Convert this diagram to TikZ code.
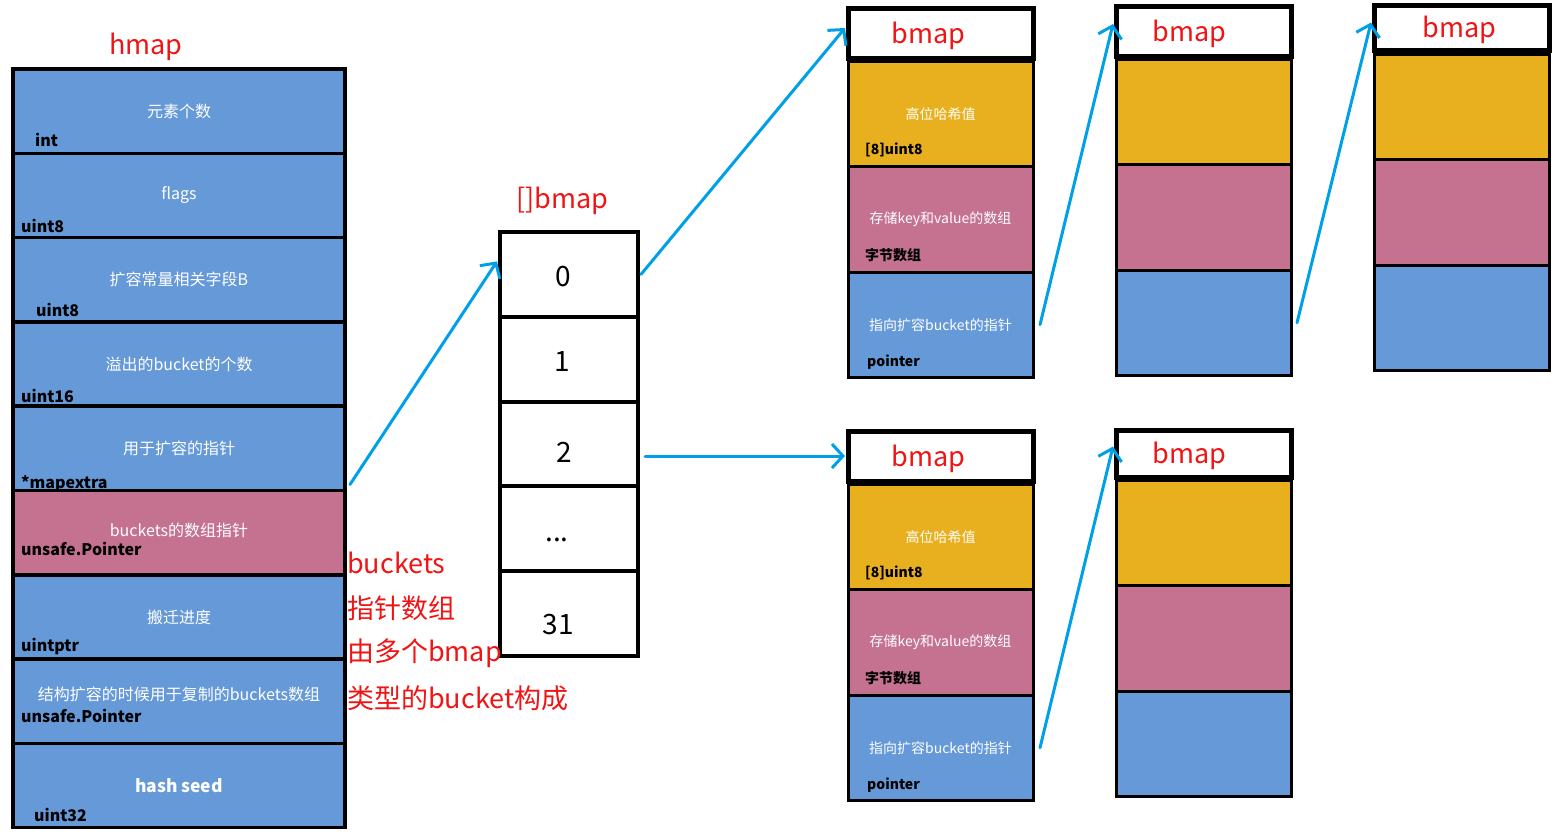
\documentclass[tikz,border=0pt]{standalone}
\usepackage{fontspec}
\setmainfont{Noto Sans CJK SC}
\usetikzlibrary{arrows.meta, positioning}
\definecolor{hblue}{RGB}{101,153,216}
\definecolor{hpink}{RGB}{196,114,144}
\definecolor{hyellow}{RGB}{232,176,30}
\definecolor{harrow}{RGB}{0,160,232}
\definecolor{hred}{RGB}{240,20,20}

\begin{document}
\begin{tikzpicture}[
    x=1pt, y=-1pt,
    hrow/.style={draw=black, fill=hblue, line width=3.5pt, minimum width=332pt, minimum height=84.3pt,
        inner sep=0pt, outer sep=0pt, text=white, font=\fontsize{16}{18}\selectfont},
    htype/.style={anchor=base west, inner sep=0pt, font=\bfseries\fontsize{16}{18}\selectfont},
    redlbl/.style={text=hred, inner sep=0pt, font=\fontsize{27}{30}\selectfont},
    cell/.style={draw=black, line width=4pt, minimum width=138pt, minimum height=84.8pt,
        inner sep=0pt, outer sep=0pt, text depth=0pt, font=\fontsize{28}{30}\selectfont},
    bhead/.style={draw=black, fill=white, line width=5pt, minimum height=50pt,
        inner sep=0pt, outer sep=0pt, text height=22pt, text depth=2pt,
        text=hred, font=\fontsize{27}{30}\selectfont},
    bpart/.style={draw=black, line width=3pt, minimum height=105.5pt,
        inner sep=0pt, outer sep=0pt, text=white, font=\fontsize{14}{16}\selectfont},
    btype/.style={anchor=base west, inner sep=0pt, font=\bfseries\fontsize{14}{16}\selectfont},
    link/.style={draw=harrow, line width=3pt, line cap=round,
        -{Straight Barb[length=11pt, width=24pt, line width=3pt]}},
    ]
    \useasboundingbox (0,0) rectangle (1568,836);

    % hmap
    \node[redlbl] (hlbl) at (146,47) {hmap};
    \node[hrow, anchor=north west] (h1) at (13,69) {元素个数};
    \node[hrow, below=0pt of h1] (h2) {flags};
    \node[hrow, below=0pt of h2] (h3) {扩容常量相关字段B};
    \node[hrow, below=0pt of h3] (h4) {溢出的bucket的个数};
    \node[hrow, below=0pt of h4] (h5) {用于扩容的指针};
    \node[hrow, below=0pt of h5, fill=hpink, text height=12pt, text depth=4pt] (h6) {buckets的数组指针};
    \node[hrow, below=0pt of h6] (h7) {搬迁进度};
    \node[hrow, below=0pt of h7, text height=6pt, text depth=8pt] (h8) {结构扩容的时候用于复制的buckets数组};
    \node[hrow, below=0pt of h8, font=\bfseries\fontsize{17.5}{19}\selectfont] (h9) {hash seed};
    \node[htype] (h1t) at (35,146) {int};
    \node[htype] (h2t) at (21,232) {uint8};
    \node[htype] (h3t) at (36,316) {uint8};
    \node[htype] (h4t) at (21,402) {uint16};
    \node[htype] (h5t) at (21,488) {*mapextra};
    \node[htype] (h6t) at (21,555) {unsafe.Pointer};
    \node[htype] (h7t) at (21,651) {uintptr};
    \node[htype] (h8t) at (21,722) {unsafe.Pointer};
    \node[htype] (h9t) at (34,821) {uint32};

    % []bmap
    \node[redlbl] (clbl) at (562,201) {[]bmap};
    \node[cell, anchor=north west, text height=24pt] (c0) at (500,232) {0\hspace*{12pt}};
    \node[cell, below=0pt of c0, text height=25pt] (c1) {1\hspace*{14pt}};
    \node[cell, below=0pt of c1, text height=37pt] (c2) {2\hspace*{10pt}};
    \node[cell, below=0pt of c2, text height=26pt] (c3) {...\hspace*{24pt}};
    \node[cell, below=0pt of c3, text height=42pt] (c4) {31\hspace*{22pt}};
    \node[redlbl, anchor=west] (b1) at (347,563) {buckets};
    \node[redlbl, anchor=west] (b2) at (347,608) {指针数组};
    \node[redlbl, anchor=west] (b3) at (347,653) {由多个bmap};
    \node[redlbl, anchor=west] (b4) at (347,698) {类型的bucket构成};

    % bmap 1
    \node[bhead, minimum width=185pt, anchor=north west] (ah) at (848,8) {bmap\hspace*{24pt}};
    \node[bpart, minimum width=185pt, fill=hyellow, below=3pt of ah] (a1) {高位哈希值};
    \node[bpart, minimum width=185pt, fill=hpink, below=0pt of a1] (a2) {存储key和value的数组};
    \node[bpart, minimum width=185pt, fill=hblue, below=0pt of a2] (a3) {指向扩容bucket的指针};
    \node[btype] (a1t) at (865,154) {[8]uint8};
    \node[btype] (a2t) at (865,260) {字节数组};
    \node[btype] (a3t) at (867,366) {pointer};

    % bmap 2
    \node[bhead, minimum width=175pt, anchor=north west] (bh) at (1116,6) {bmap\hspace*{28pt}};
    \node[bpart, minimum width=175pt, fill=hyellow, below=3pt of bh] (bb1) {};
    \node[bpart, minimum width=175pt, fill=hpink, below=0pt of bb1] (bb2) {};
    \node[bpart, minimum width=175pt, fill=hblue, below=0pt of bb2] (bb3) {};

    % bmap 3
    \node[bhead, minimum width=175pt, minimum height=45pt, anchor=north west] (ch) at (1374,5) {bmap\hspace*{4pt}};
    \node[bpart, minimum width=175pt, fill=hyellow, below=4pt of ch] (cc1) {};
    \node[bpart, minimum width=175pt, fill=hpink, below=0pt of cc1] (cc2) {};
    \node[bpart, minimum width=175pt, fill=hblue, below=0pt of cc2] (cc3) {};

    % bmap 4
    \node[bhead, minimum width=185pt, anchor=north west] (dh) at (848,431) {bmap\hspace*{24pt}};
    \node[bpart, minimum width=185pt, fill=hyellow, below=3pt of dh] (d1) {高位哈希值};
    \node[bpart, minimum width=185pt, fill=hpink, below=0pt of d1] (d2) {存储key和value的数组};
    \node[bpart, minimum width=185pt, fill=hblue, below=0pt of d2] (d3) {指向扩容bucket的指针};
    \node[btype] (d1t) at (865,577) {[8]uint8};
    \node[btype] (d2t) at (865,683) {字节数组};
    \node[btype] (d3t) at (867,789) {pointer};

    % bmap 5
    \node[bhead, minimum width=175pt, minimum height=47pt, anchor=north west] (eh) at (1116,430) {bmap\hspace*{28pt}};
    \node[bpart, minimum width=175pt, fill=hyellow, below=3pt of eh] (e1) {};
    \node[bpart, minimum width=175pt, fill=hpink, below=0pt of e1] (e2) {};
    \node[bpart, minimum width=175pt, fill=hblue, below=0pt of e2] (e3) {};

    % links
    \coordinate (s1) at ([shift={(5,-6)}]h6.north east);
    \draw[link] (s1) -- ([shift={(-3,-13)}]c0.west);
    \draw[link] ([xshift=3pt]c0.east) -- ([shift={(-3,-5)}]ah.west);
    \draw[link] ([xshift=7pt]c2.east |- dh.west) -- ([xshift=-3pt]dh.west);
    \draw[link] ([xshift=7pt]a3.east) -- ([shift={(-3,-7)}]bh.west);
    \draw[link] ([xshift=6pt]bb3.east) -- ([shift={(-3,-5)}]ch.west);
    \draw[link] ([xshift=7pt]d3.east) -- ([shift={(-3,-7)}]eh.west);
\end{tikzpicture}
\end{document}
